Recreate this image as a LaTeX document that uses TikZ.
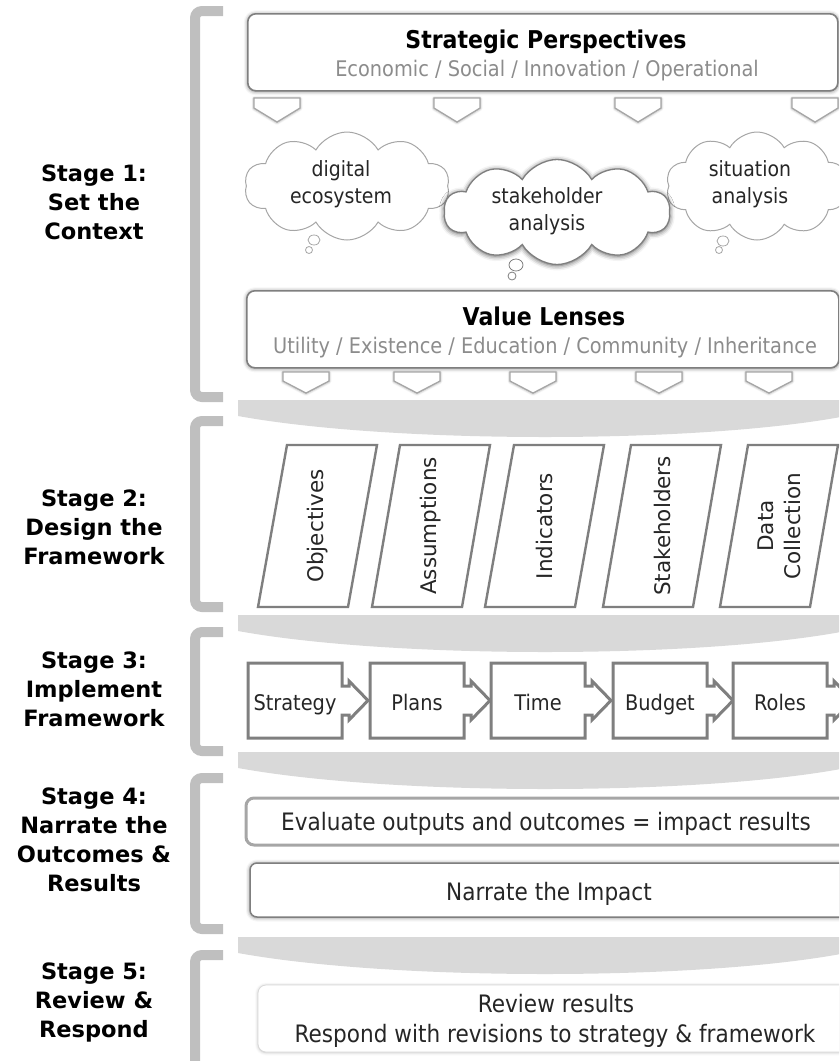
\documentclass[tikz,border=0pt]{standalone}
\usepackage{fontspec}
\setmainfont{DejaVu Sans}
\newfontfamily\tah{DejaVu Sans}[FakeStretch=0.9]
\usetikzlibrary{shapes.symbols,shadows.blur}
\definecolor{brk}{HTML}{BFBFBF}
\definecolor{bandc}{HTML}{D9D9D9}
\definecolor{edgec}{HTML}{7F7F7F}
\definecolor{ledge}{HTML}{A6A6A6}
\definecolor{subt}{HTML}{8C8C8C}
\definecolor{txt}{HTML}{262626}
\begin{document}
\begin{tikzpicture}[x=1pt,y=-1pt,
  bracket/.style={draw=brk, line width=10pt, rounded corners=7pt},
  bandfill/.style={fill=bandc},
  softshadow/.style={blur shadow={shadow xshift=0pt, shadow yshift=-0.5pt, shadow blur radius=4pt, shadow opacity=55}},
  topbox/.style={draw=edgec, line width=1.6pt, fill=white, rounded corners=8pt, softshadow, inner sep=0pt, anchor=north west},
  chev/.style={draw=ledge, line width=1.2pt, fill=white, line join=miter, blur shadow={shadow xshift=0pt, shadow yshift=-0.5pt, shadow blur radius=2.5pt, shadow opacity=45}},
  cloudbase/.style={cloud, cloud puffs=10, cloud puff arc=120, cloud ignores aspect, fill=white, inner sep=0pt},
  lightcloud/.style={cloudbase, draw=ledge, line width=1pt},
  darkcloud/.style={cloudbase, draw=edgec, line width=1.3pt, blur shadow={shadow xshift=0pt, shadow yshift=-1pt, shadow blur radius=5pt, shadow opacity=70}},
  bubble/.style={draw=ledge, line width=0.8pt, fill=white},
  para/.style={draw=edgec, line width=2.4pt, fill=white, line join=miter},
  stepbox/.style={draw=edgec, line width=3pt, fill=white, line join=miter},
  titletext/.style={font=\tah\bfseries\fontsize{24.5}{28}\selectfont, text=black, anchor=base, inner sep=0pt},
  subtext/.style={font=\tah\fontsize{21.5}{26}\selectfont, text=subt, anchor=base, inner sep=0pt},
  cloudtext/.style={font=\tah\fontsize{21}{26}\selectfont, text=txt, anchor=base, inner sep=0pt},
  paratext/.style={font=\fontsize{21.5}{27}\selectfont, text=txt, rotate=90, align=center, inner sep=0pt},
  steptext/.style={font=\tah\fontsize{21.5}{26}\selectfont, text=txt, anchor=base, inner sep=0pt},
  bigtext/.style={font=\tah\fontsize{24}{29}\selectfont, text=txt, anchor=base, inner sep=0pt},
  stagelab/.style={font=\bfseries\fontsize{22.5}{28}\selectfont, text=black, anchor=base, inner sep=0pt}
]
\useasboundingbox (0,0) rectangle (839,1061);
\clip (0,0) rectangle (839,1061);

% separator bands
\foreach \t in {400,615,752,937} {
  \fill[bandfill] (238,\t) -- (846,\t) -- (846,\t+16) .. controls (700,\t+44) and (392,\t+44) .. (238,\t+16) -- cycle;
}

% stage brackets
\draw[bracket] (223,11) -- (195,11) -- (195,397) -- (223,397);
\draw[bracket] (223,421) -- (195,421) -- (195,607) -- (223,607);
\draw[bracket] (223,632) -- (195,632) -- (195,751) -- (223,751);
\draw[bracket] (223,778) -- (195,778) -- (195,929) -- (223,929);
\draw[bracket] (223,955) -- (195,955) -- (195,1075);

% stage labels
\foreach \txt [count=\k from 0] in {Stage 1:, Set the, Context}
  \node[stagelab] (stA\k) at (94,{181+29*\k}) {\txt};
\foreach \txt [count=\k from 0] in {Stage 2:, Design the, Framework}
  \node[stagelab] (stB\k) at (94,{506+29*\k}) {\txt};
\foreach \txt [count=\k from 0] in {Stage 3:, Implement, Framework}
  \node[stagelab] (stC\k) at (94,{668+29*\k}) {\txt};
\foreach \txt [count=\k from 0] in {Stage 4:, Narrate the, Outcomes \&, Results}
  \node[stagelab] (stD\k) at (94,{804+29*\k}) {\txt};
\foreach \txt [count=\k from 0] in {Stage 5:, Review \&, Respond}
  \node[stagelab] (stE\k) at (94,{979+29*\k}) {\txt};

% ---------- Stage 1 ----------
\node[topbox, minimum width=590pt, minimum height=77pt] (sp) at (247,13) {};
\node[titletext] (sptitle) at (546,48) {Strategic Perspectives};
\node[subtext] (spsub) at (547,76) {Economic / Social / Innovation / Operational};

\foreach \x in {277,457,638,815}
  \draw[chev] (\x-23,98) -- (\x+23,98) -- (\x+23,108) -- (\x,122) -- (\x-23,108) -- cycle;

% clouds
\node[lightcloud, minimum width=205pt, minimum height=108pt] (cdig) at (347,186) {};
\draw[bubble] (314,240) circle[x radius=6pt, y radius=5pt];
\draw[bubble] (309,250) circle[radius=3.5pt];
\node[cloudtext] (cdig1) at (341,176) {digital};
\node[cloudtext] (cdig2) at (341,203) {ecosystem};

\node[lightcloud, minimum width=182pt, minimum height=108pt] (csit) at (757,186) {};
\draw[bubble] (723,241) circle[x radius=6pt, y radius=5pt];
\draw[bubble] (719,250) circle[radius=3.5pt];
\node[cloudtext] (csit1) at (750,176) {situation};
\node[cloudtext] (csit2) at (750,203) {analysis};

\node[darkcloud, minimum width=226pt, minimum height=105pt] (csta) at (557,212) {};
\draw[bubble, draw=edgec] (516,265) circle[x radius=7pt, y radius=6pt];
\draw[bubble, draw=edgec] (512,276) circle[radius=4pt];
\node[cloudtext] (csta1) at (547,203) {stakeholder};
\node[cloudtext] (csta2) at (547,230) {analysis};

\node[topbox, minimum width=592pt, minimum height=77pt] (vl) at (246,290) {};
\node[titletext] (vltitle) at (544,325) {Value Lenses};
\node[subtext] (vlsub) at (545,353) {Utility / Existence / Education / Community / Inheritance};

\foreach \x in {306,417,533,659,769}
  \draw[chev] (\x-23,372) -- (\x+23,372) -- (\x+23,381) -- (\x,393) -- (\x-23,381) -- cycle;

% ---------- Stage 2 ----------
\foreach \tl/\bl/\nm/\lab in {287/258/pObj/Objectives, 400/372/pAss/Assumptions, 514/485/pInd/Indicators, 631/603/pSta/Stakeholders, 748/720/pDat/{Data\\Collection}} {
  \draw[para] (\tl,445) -- (\tl+90,445) -- (\bl+90,607) -- (\bl,607) -- cycle;
  \node[paratext] (\nm) at ({(\tl+\bl)/2+45},526) {\lab};
}

% ---------- Stage 3 ----------
\foreach \L/\nm/\lab in {248/sStr/Strategy, 370/sPla/Plans, 491/sTim/Time, 613/sBud/Budget, 733/sRol/Roles} {
  \pgfmathsetmacro\R{\L+94}
  \draw[stepbox] (\L,663) -- (\R,663) -- (\R,686) -- (\R+7,686) -- (\R+7,681) -- (\R+26,700.5) -- (\R+7,720) -- (\R+7,715) -- (\R,715) -- (\R,738) -- (\L,738) -- cycle;
  \node[steptext] (\nm) at (\L+47,710) {\lab};
}

% ---------- Stage 4 ----------
\draw[draw=ledge, line width=3pt, fill=white, rounded corners=8pt] (246,798) rectangle (852,845);
\node[bigtext] (evaltxt) at (546,830) {Evaluate outputs and outcomes = impact results};
\draw[draw=edgec, line width=1.5pt, fill=white, rounded corners=7pt, softshadow] (250,863) rectangle (852,917);
\node[bigtext] (narrtxt) at (549,900) {Narrate the Impact};

% ---------- Stage 5 ----------
\draw[draw=bandc, line width=0.8pt, fill=white, rounded corners=8pt, blur shadow={shadow xshift=0pt, shadow yshift=-0.5pt, shadow blur radius=3pt, shadow opacity=25}] (258,985) rectangle (852,1052);
\node[bigtext] (rev1) at (556,1012) {Review results};
\node[bigtext] (rev2) at (555,1042) {Respond with revisions to strategy \& framework};
\end{tikzpicture}
\end{document}
